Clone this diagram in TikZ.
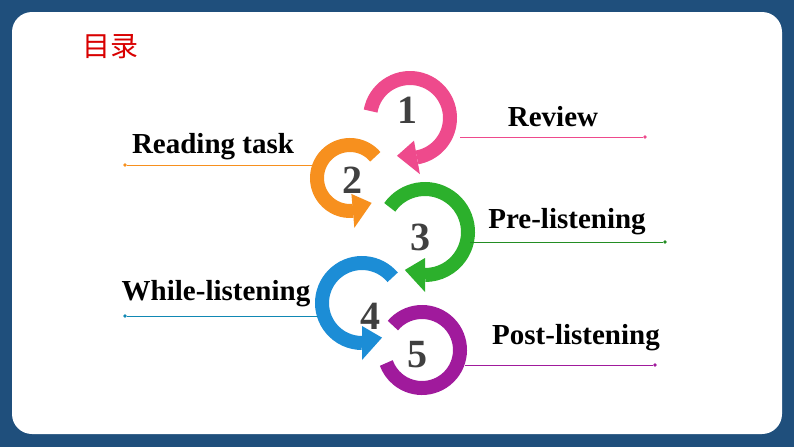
\documentclass[tikz,border=0pt]{standalone}
\usepackage{fontspec}
\setmainfont{Liberation Serif}
\newfontfamily\cjk{Noto Sans CJK SC}
\usetikzlibrary{calc}
\definecolor{cpink}{HTML}{EE4A8C}
\definecolor{corange}{HTML}{F7901E}
\definecolor{cgreen}{HTML}{2CB02C}
\definecolor{cblue}{HTML}{1C8DD6}
\definecolor{cpurple}{HTML}{A01A9C}
\definecolor{bgblue}{HTML}{1F4F7C}
\tikzset{
 ring/.style={line width=14pt},
 num/.style={font=\fontsize{40}{40}\selectfont\bfseries, text=black!75},
 lab/.style={font=\fontsize{29}{29}\selectfont\bfseries},
 uline/.style={line width=0.9pt},
 dot/.style={circle,fill,inner sep=1.3pt}
}
% #1 colour, #2 centre, #3 radius, #4 start, #5 end, #6 tip angle offset
\newcommand{\ringarr}[6]{%
 \draw[ring,#1] ($(#2)+(#4:#3)$) arc[start angle=#4,end angle=#5,radius=#3];
 \fill[#1] ($(#2)+(#5:#3-17)$) -- ($(#2)+(#5:#3+17)$) -- ($(#2)+(#5+#6:#3)$) -- cycle;}
\begin{document}
\begin{tikzpicture}[x=1pt,y=-1pt]
\useasboundingbox (0,0) rectangle (794,447);
\fill[bgblue] (0,0) rectangle (794,447);
\fill[white] (12,12) [rounded corners=20pt] rectangle (782,434);
\node[text=red!85!black,font=\cjk\fontsize{28}{28}\selectfont] (title) at (110,47) {目录};
\coordinate (c1) at (410,118);
\coordinate (c2) at (350,178);
\coordinate (c3) at (425,232);
\coordinate (c4) at (362,303);
\coordinate (c5) at (422,350);
% rings
\draw[ring,cpurple] ($(c5)+(-140:38)$) arc[start angle=-140,end angle=160,radius=38];
\ringarr{cblue}{c4}{40}{-40}{-270}{-30}
\ringarr{cgreen}{c3}{43}{-145}{90}{28}
\ringarr{corange}{c2}{33}{-40}{-275}{-36}
\ringarr{cpink}{c1}{40}{-170}{80}{29}
% numbers
\node[num] (n1) at (407,110) {1};
\node[num] (n2) at (352,180) {2};
\node[num] (n3) at (420,237) {3};
\node[num] (n4) at (370,316) {4};
\node[num] (n5) at (417,355) {5};
% labels
\node[lab] (l1) at (553,117) {Review};
\coordinate (a1) at (460,137); \node[dot,cpink] (d1) at (645,137) {};
\draw[uline,cpink] (a1) -- (d1);
\node[lab] (l2) at (213,147) {Reading task};
\node[dot,corange] (d2) at (125,165) {}; \coordinate (a2) at (312,165);
\draw[uline,corange] (d2) -- (a2);
\node[lab] (l3) at (567,222) {Pre-listening};
\coordinate (a3) at (470,242); \node[dot,cgreen!80!black] (d3) at (665,242) {};
\draw[uline,cgreen!80!black] (a3) -- (d3);
\node[lab] (l4) at (216,294) {While-listening};
\node[dot,cblue!60!teal] (d4) at (125,316) {}; \coordinate (a4) at (318,316);
\draw[uline,cblue!60!teal] (d4) -- (a4);
\node[lab] (l5) at (576,338) {Post-listening};
\coordinate (a5) at (465,365); \node[dot,cpurple] (d5) at (655,365) {};
\draw[uline,cpurple] (a5) -- (d5);
\end{tikzpicture}
\end{document}
